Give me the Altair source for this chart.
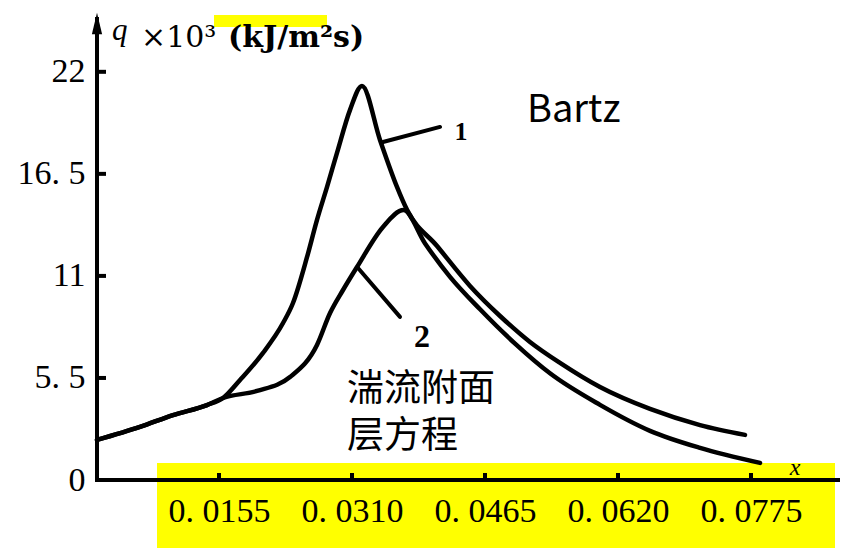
import altair as alt
import pandas as pd

# ---- data ----
x_ticks = [0.0155, 0.0310, 0.0465, 0.0620, 0.0775]
y_ticks = [0, 5.5, 11, 16.5, 22]

curve1_x = [0.00128, 0.00629, 0.01014, 0.01410, 0.01597, 0.01795, 0.02063, 0.02296,
            0.02412, 0.02576, 0.02692, 0.02809, 0.02925, 0.03077, 0.03216, 0.03426,
            0.03624, 0.03741, 0.04091, 0.04475, 0.04825, 0.05174, 0.05524, 0.05990,
            0.06573, 0.07156, 0.07680]
curve1_q = [2.16, 2.86, 3.50, 4.04, 4.42, 5.39, 6.85, 8.46,
            9.54, 12.02, 14.02, 15.80, 17.63, 19.95, 21.24, 18.33,
            15.80, 14.56, 12.61, 10.46, 8.84, 7.44, 6.31, 5.01,
            3.83, 2.96, 2.43]

curve2_x = [0.00128, 0.00629, 0.01014, 0.01410, 0.01597, 0.01993, 0.02377, 0.02692,
            0.02844, 0.02995, 0.03158, 0.03461, 0.03700, 0.03951, 0.04242, 0.04592,
            0.05000, 0.05407, 0.05990, 0.06573, 0.07156, 0.07855]
curve2_q = [2.16, 2.86, 3.50, 4.04, 4.42, 4.80, 5.55, 7.28,
            9.00, 10.24, 11.48, 13.64, 14.55, 12.75, 10.95, 9.20,
            7.35, 5.75, 4.05, 2.65, 1.73, 0.92]

# annotation leaders (curve labels)
leader_x = [0.03461, 0.04126, 0.03170, 0.03659]
leader_y = [18.22, 19.03, 11.43, 8.79]
leader_id = ["1", "1", "2", "2"]

label_text = ["1", "2"]
label_x = [0.04370, 0.03916]
label_y = [18.76, 7.71]
label_size = [26, 32]

note_text = ["Bartz", "湍流附面", "层方程"]
note_x = [0.05139, 0.03042, 0.03042]
note_y = [19.30, 4.85, 2.32]

x_domain = [0.00128, 0.08787]
y_domain = [0, 25.17]

W, H = 743, 467

df = pd.concat([
    pd.DataFrame({"x": curve1_x, "q": curve1_q, "curve": "1"}),
    pd.DataFrame({"x": curve2_x, "q": curve2_q, "curve": "2"}),
])
lead_df = pd.DataFrame({"x": leader_x, "q": leader_y, "id": leader_id})
lab_df = pd.DataFrame({"x": label_x, "q": label_y, "t": label_text, "s": label_size})
note_df = pd.DataFrame({"x": note_x, "q": note_y, "t": note_text})
xt_df = pd.DataFrame({"x": x_ticks})
yt_df = pd.DataFrame({"q": y_ticks[1:]})
one = pd.DataFrame({"a": [0]})

xs = alt.Scale(domain=x_domain, nice=False, zero=False)
ys = alt.Scale(domain=y_domain, nice=False, zero=False)

xaxis = alt.Axis(values=x_ticks,
                 labelExpr="replace(format(datum.value, '.4f'), '.', '. ')",
                 domain=False, ticks=False, grid=False, title=None,
                 labelFont="Liberation Serif", labelFontSize=34, labelColor="black",
                 labelPadding=14, labelFlush=False, labelOverlap=False, zindex=2)
yaxis = alt.Axis(values=y_ticks,
                 labelExpr="replace(toString(datum.value), '.', '. ')",
                 domain=False, ticks=False, grid=False, title=None,
                 labelFont="Liberation Serif", labelFontSize=34, labelColor="black",
                 labelPadding=12, labelFlush=False, labelOverlap=False, zindex=2)

yellow_band = alt.Chart(one).mark_rect(color="#ffff00").encode(
    x=alt.value(60), x2=alt.value(738), y=alt.value(450), y2=alt.value(535))
yellow_title = alt.Chart(one).mark_rect(color="#ffff00").encode(
    x=alt.value(117), x2=alt.value(230), y=alt.value(2), y2=alt.value(14))

y_line = alt.Chart(one).mark_rule(color="black", strokeWidth=4).encode(
    x=alt.value(0), y=alt.value(4), y2=alt.value(H))
x_line = alt.Chart(one).mark_rule(color="black", strokeWidth=4).encode(
    x=alt.value(-2), x2=alt.value(W), y=alt.value(H))
arrow = alt.Chart(one).mark_point(
    shape="M0,-1L0.5,1.1L-0.5,1.1Z", filled=True, color="black", size=420, opacity=1
).encode(x=alt.value(0), y=alt.value(10))

y_tick_marks = alt.Chart(yt_df).mark_rule(color="black", strokeWidth=4).encode(
    y=alt.Y("q:Q", scale=ys), x=alt.value(0), x2=alt.value(9))
x_tick_marks = alt.Chart(xt_df).mark_rule(color="black", strokeWidth=4).encode(
    x=alt.X("x:Q", scale=xs), y=alt.value(H), y2=alt.value(H - 7))

lines = alt.Chart(df).mark_line(
    interpolate="monotone", color="black", strokeWidth=4.5, strokeCap="round"
).encode(
    x=alt.X("x:Q", scale=xs, axis=xaxis),
    y=alt.Y("q:Q", scale=ys, axis=yaxis),
    detail="curve:N",
)

leaders = alt.Chart(lead_df).mark_line(color="black", strokeWidth=4, strokeCap="round").encode(
    x=alt.X("x:Q", scale=xs), y=alt.Y("q:Q", scale=ys), detail="id:N")

labels = alt.Chart(lab_df).mark_text(
    font="Liberation Serif", color="black", align="center", baseline="middle", fontWeight="bold"
).encode(x=alt.X("x:Q", scale=xs), y=alt.Y("q:Q", scale=ys), text="t:N",
         size=alt.Size("s:Q", scale=None, legend=None))

bartz = alt.Chart(note_df.iloc[[0]]).mark_text(
    font="Noto Sans CJK SC", fontSize=38, color="black", align="left", baseline="alphabetic"
).encode(x=alt.X("x:Q", scale=xs), y=alt.Y("q:Q", scale=ys), text="t:N")
cjk = alt.Chart(note_df.iloc[1:]).mark_text(
    font="Noto Sans CJK SC", fontSize=37, color="black", align="left", baseline="middle"
).encode(x=alt.X("x:Q", scale=xs), y=alt.Y("q:Q", scale=ys), text="t:N")

title_q = alt.Chart(one).mark_text(
    text="q", font="Liberation Serif", fontStyle="italic", fontSize=31, color="black",
    align="left", baseline="alphabetic"
).encode(x=alt.value(15), y=alt.value(27))
title_a = alt.Chart(one).mark_text(
    text="×10³", font="DejaVu Serif", fontSize=30, color="black",
    align="left", baseline="alphabetic"
).encode(x=alt.value(44), y=alt.value(34))
title_b = alt.Chart(one).mark_text(
    text="(kJ/m²s)", font="DejaVu Serif", fontWeight="bold", fontSize=30, color="black",
    align="left", baseline="alphabetic"
).encode(x=alt.value(131), y=alt.value(34))
x_name = alt.Chart(one).mark_text(
    text="x", font="Liberation Serif", fontStyle="italic", fontSize=24, color="black",
    align="center", baseline="middle"
).encode(x=alt.value(698), y=alt.value(455))

chart = alt.layer(
    yellow_band, yellow_title, lines, y_line, x_line, arrow, y_tick_marks, x_tick_marks,
    leaders, labels, bartz, cjk, title_q, title_a, title_b, x_name
).properties(
    width=W, height=H,
    autosize=alt.AutoSizeParams(type="none"),
    padding={"left": 89, "top": 5, "right": 1, "bottom": 68},
    background="white",
).configure_view(stroke=None)

chart.save("out.html", embed_options={"renderer": "svg", "actions": False})
